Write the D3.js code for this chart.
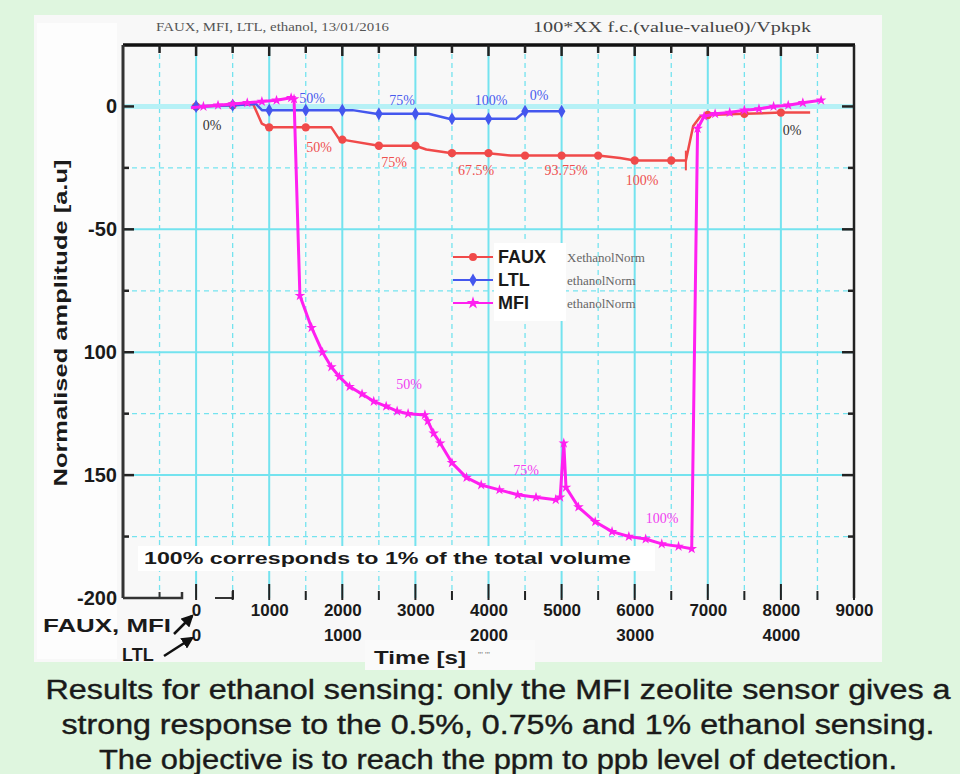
<!DOCTYPE html>
<html>
<head>
<meta charset="utf-8">
<script src="https://cdn.jsdelivr.net/npm/d3@7"></script>
<style>
  html, body { margin: 0; padding: 0; background: #dff6df; }
  svg { display: block; }
</style>
</head>
<body>
<svg id="chart" width="960" height="774"></svg>
<script>
// ---- data ----
// FAUX and MFI use the upper time axis (s), LTL uses the lower one
const fauxData = [[-50,0],[0,0],[500,0.5],[780,1],[900,-7],[1000,-8.5],[1500,-8.5],[1850,-8.5],[1950,-13],[2000,-13.5],
  [2500,-16],[3000,-16],[3150,-17.5],[3500,-19],[4000,-19],[4300,-20],[4500,-20],[5000,-20],[5500,-20],[5800,-21],
  [6000,-22],[6500,-22],[6700,-22],[6750,-15],[6800,-8],[6900,-4],[7000,-3.5],[7500,-3],[8000,-2.5],[8400,-2.5]];
const fauxEndBar = [6700, -18, -26];

const ltlData = [[-30,0],[0,0],[250,0.5],[410,1],[450,-1.5],[500,-1.5],[750,-1.5],[1000,-1.5],[1070,-1.5],[1230,-3],
  [1250,-3],[1500,-3],[1590,-3],[1730,-5],[1750,-5],[2000,-5],[2190,-5],[2250,-2],[2500,-2]];

const mfiData = [[-70,-0.5],[100,0],[300,0.5],[500,1],[700,1.5],[900,2],[1100,2.5],[1300,3.5],[1340,3],[1420,-77],
  [1580,-90],[1730,-100],[1850,-106],[1960,-110],[2100,-114],[2270,-117],[2430,-120],[2600,-122],[2750,-124],[2900,-125],
  [3130,-125.5],[3170,-128],[3250,-133],[3340,-137],[3500,-145],[3700,-151],[3900,-154],[4150,-156],[4400,-158],[4650,-159],
  [4920,-160],[4980,-159],[5030,-137],[5060,-155],[5230,-163],[5460,-169],[5690,-173],[5920,-175],[6150,-176],[6370,-178],
  [6600,-179],[6780,-180],[6860,-9],[6950,-4],[7100,-3],[7300,-2.5],[7500,-1.5],[7700,-1],[7900,0],[8100,0.5],[8300,1.5],[8550,2.5]];

// percentage annotations [time, value, text]
const fauxLabels = [[1683,-16.7,"50%"],[2709,-22.8,"75%"],[3830,-26,"67.5%"],[5062,-26,"93.75%"],[6101,-30,"100%"]];
const ltlLabels = [[1587,3.3,"50%"],[2818,2.4,"75%"],[4036,2.4,"100%"],[4692,4.5,"0%"]];
const mfiLabels = [[2914,-113,"50%"],[4514,-148,"75%"],[6375,-167.5,"100%"]];
const zeroLabels = [[219,-7.7,"0%"],[8153,-9.8,"0%"]];

const yTicks = [0, -50, -100, -150, -200];
const yTickText = ["0", "-50", "100", "150", "-200"];
const xTicks = [0,1000,2000,3000,4000,5000,6000,7000,8000,9000];
const xLtlTicks = [0,1000,2000,3000,4000];

const legendItems = [
  { name: "FAUX", sub: "XethanolNorm", color: "#f04a4a", sym: d3.symbolCircle },
  { name: "LTL",  sub: "ethanolNorm",  color: "#4457ee", sym: d3.symbolDiamond },
  { name: "MFI",  sub: "ethanolNorm",  color: "#ff1ff0", sym: d3.symbolStar }
];

const captionLines = [
  "Results for ethanol sensing: only the MFI zeolite sensor gives a",
  "strong response to the 0.5%, 0.75% and 1% ethanol sensing.",
  "The objective is to reach the ppm to ppb level of detection."
];

// ---- layout ----
const svg = d3.select("#chart");
const L = 123, R = 854, T = 45, B = 598;
const sans = "'Liberation Sans', Arial, sans-serif";
const serif = "'Liberation Serif', 'Times New Roman', serif";
const gridColor = "#74e3ef";

const x = d3.scaleLinear().domain([-1000, 9000]).range([L, R]);
const xLtl = d3.scaleLinear().domain([-500, 4500]).range([L, R]);
const y = d3.scaleLinear().domain([-200, 25]).range([B, T]);

// panel
svg.append("rect").attr("x", 34).attr("y", 15).attr("width", 848).attr("height", 647).attr("fill", "#f8f8f8");
svg.append("rect").attr("x", 37).attr("y", 23).attr("width", 80).attr("height", 636).attr("fill", "#fdfdfd");
svg.append("rect").attr("x", 365).attr("y", 640).attr("width", 170).attr("height", 30).attr("fill", "#fafafa");

// header
svg.append("text").attr("x", 156).attr("y", 31).attr("font-family", serif).attr("font-size", 12)
  .attr("fill", "#555").attr("textLength", 233).attr("lengthAdjust", "spacingAndGlyphs")
  .text("FAUX, MFI, LTL, ethanol, 13/01/2016");
svg.append("text").attr("x", 533).attr("y", 32).attr("font-family", serif).attr("font-size", 14)
  .attr("fill", "#444").attr("textLength", 278).attr("lengthAdjust", "spacingAndGlyphs")
  .text("100*XX f.c.(value-value0)/Vpkpk");

// grid
const grid = svg.append("g");
grid.selectAll("line.vmaj").data(d3.range(0, 9000, 1000)).join("line")
  .attr("x1", d => x(d)).attr("x2", d => x(d)).attr("y1", T).attr("y2", B)
  .attr("stroke", gridColor).attr("stroke-width", 2);
grid.selectAll("line.vmin").data(d3.range(-500, 9000, 1000)).join("line")
  .attr("x1", d => x(d)).attr("x2", d => x(d)).attr("y1", T).attr("y2", B)
  .attr("stroke", gridColor).attr("stroke-width", 1.3).attr("stroke-dasharray", "5,4");
grid.selectAll("line.hmaj").data([-50, -100, -150]).join("line")
  .attr("x1", L).attr("x2", R).attr("y1", d => y(d)).attr("y2", d => y(d))
  .attr("stroke", gridColor).attr("stroke-width", 2);
grid.append("line").attr("x1", L).attr("x2", R).attr("y1", y(0)).attr("y2", y(0))
  .attr("stroke", "#b6f1f6").attr("stroke-width", 5);
grid.selectAll("line.hmin").data([-25, -75, -125, -175]).join("line")
  .attr("x1", L).attr("x2", R).attr("y1", d => y(d)).attr("y2", d => y(d))
  .attr("stroke", gridColor).attr("stroke-width", 1.3).attr("stroke-dasharray", "5,4");

// frame and ticks
svg.append("line").attr("x1", L).attr("x2", R + 1).attr("y1", T).attr("y2", T).attr("stroke", "#111").attr("stroke-width", 3.5);
svg.append("line").attr("x1", R).attr("x2", R).attr("y1", T).attr("y2", B).attr("stroke", "#222").attr("stroke-width", 2.5);
svg.append("path").attr("d", `M${L},${B}H182V${B - 6}`).attr("fill", "none").attr("stroke", "#333").attr("stroke-width", 2.5);
svg.append("path").attr("d", `M${x(-500)},${B}V${B - 6}`).attr("stroke", "#333").attr("stroke-width", 2);
svg.append("path").attr("d", `M215,${B}H233V${B - 8}`).attr("fill", "none").attr("stroke", "#333").attr("stroke-width", 2);

const tickG = svg.append("g").attr("stroke", "#222");
tickG.selectAll("line.top").data(d3.range(-500, 9000, 500)).join("line")
  .attr("x1", d => x(d)).attr("x2", d => x(d)).attr("y1", T)
  .attr("y2", d => T + (d % 1000 === 0 ? 11 : 8)).attr("stroke-width", 2.5);
tickG.selectAll("line.bot").data(d3.range(0, 9500, 500)).join("line")
  .attr("x1", d => x(d)).attr("x2", d => x(d))
  .attr("y1", d => B - (d % 1000 === 0 ? 14 : 7)).attr("y2", B + 2).attr("stroke-width", 2);
tickG.selectAll("line.right").data(d3.range(0, -200, -25)).join("line")
  .attr("x1", R).attr("x2", d => R - (d % 50 === 0 ? 12 : 6))
  .attr("y1", d => y(d)).attr("y2", d => y(d)).attr("stroke-width", 2.5);
tickG.selectAll("line.left").data(d3.range(0, -200, -25)).join("line")
  .attr("x1", L).attr("x2", d => L + (d % 50 === 0 ? 11 : 6))
  .attr("y1", d => y(d)).attr("y2", d => y(d)).attr("stroke-width", 2.5);

// y axis
const yAxis = svg.append("g").attr("transform", `translate(${L},0)`)
  .call(d3.axisLeft(y).tickValues(yTicks).tickSize(0).tickPadding(6)
    .tickFormat((d, i) => yTickText[i]));
yAxis.select(".domain").attr("stroke", "#333").attr("stroke-width", 3).attr("d", `M0,${T}V${B}`);
yAxis.selectAll("text").attr("font-family", sans).attr("font-weight", "bold").attr("font-size", 20).attr("fill", "#1a1a1a");

svg.append("text").attr("transform", "translate(67,323) rotate(-90)").attr("text-anchor", "middle")
  .attr("font-family", sans).attr("font-weight", "bold").attr("font-size", 19).attr("fill", "#1a1a1a")
  .attr("textLength", 327).attr("lengthAdjust", "spacingAndGlyphs")
  .text("Normalised amplitude [a.u]");

// x axes (two time scales)
const xAxis1 = svg.append("g").attr("transform", `translate(0,${B})`)
  .call(d3.axisBottom(x).tickValues(xTicks).tickSize(0).tickPadding(6).tickFormat(d3.format("d")));
const xAxis2 = svg.append("g").attr("transform", `translate(0,${B + 25})`)
  .call(d3.axisBottom(xLtl).tickValues(xLtlTicks).tickSize(0).tickPadding(6).tickFormat(d3.format("d")));
[xAxis1, xAxis2].forEach(a => {
  a.select(".domain").remove();
  a.selectAll("text").attr("font-family", sans).attr("font-weight", "bold").attr("font-size", 17).attr("fill", "#1a1a1a");
});

svg.append("text").attr("x", 420).attr("y", 664).attr("text-anchor", "middle")
  .attr("font-family", sans).attr("font-weight", "bold").attr("font-size", 19).attr("fill", "#1a1a1a")
  .attr("textLength", 92).attr("lengthAdjust", "spacingAndGlyphs")
  .text("Time [s]");
svg.append("text").attr("x", 478).attr("y", 658).attr("font-family", serif).attr("font-size", 9).attr("fill", "#777")
  .text("''' '''");

svg.append("text").attr("x", 43).attr("y", 632).attr("font-family", sans).attr("font-weight", "bold")
  .attr("font-size", 18).attr("fill", "#1a1a1a").attr("textLength", 128).attr("lengthAdjust", "spacingAndGlyphs")
  .text("FAUX, MFI");
svg.append("text").attr("x", 122).attr("y", 661).attr("font-family", sans).attr("font-weight", "bold")
  .attr("font-size", 18).attr("fill", "#1a1a1a").text("LTL");
svg.append("defs").append("marker").attr("id", "arr").attr("viewBox", "0 0 10 10").attr("refX", 8).attr("refY", 5)
  .attr("markerWidth", 5).attr("markerHeight", 5).attr("orient", "auto")
  .append("path").attr("d", "M0,0L10,5L0,10z").attr("fill", "#111");
svg.append("line").attr("x1", 174).attr("y1", 634).attr("x2", 192).attr("y2", 616)
  .attr("stroke", "#111").attr("stroke-width", 2.5).attr("marker-end", "url(#arr)");
svg.append("line").attr("x1", 164).attr("y1", 656).attr("x2", 192).attr("y2", 638)
  .attr("stroke", "#111").attr("stroke-width", 2.5).attr("marker-end", "url(#arr)");

// series
function drawSeries(data, xs, color, width, sym, size, markEvery) {
  const g = svg.append("g");
  g.append("path").datum(data)
    .attr("d", d3.line().x(d => xs(d[0])).y(d => y(d[1])))
    .attr("fill", "none").attr("stroke", color).attr("stroke-width", width).attr("stroke-linejoin", "round");
  const pts = markEvery ? data.filter(d => d[0] % markEvery === 0) : data.filter(d => d[0] >= 0);
  g.selectAll("path.m").data(pts).join("path")
    .attr("transform", d => `translate(${xs(d[0])},${y(d[1])})`)
    .attr("d", d3.symbol().type(sym).size(size)).attr("fill", color);
  return g;
}
drawSeries(fauxData, x, "#f04a4a", 2.5, d3.symbolCircle, 55, 500);
svg.append("line").attr("x1", x(fauxEndBar[0])).attr("x2", x(fauxEndBar[0]))
  .attr("y1", y(fauxEndBar[1])).attr("y2", y(fauxEndBar[2])).attr("stroke", "#f04a4a").attr("stroke-width", 2);
drawSeries(ltlData, xLtl, "#4457ee", 2.5, d3.symbolDiamond, 50, 250);
drawSeries(mfiData, x, "#ff1ff0", 3, d3.symbolStar, 35, 0);

// annotations
function drawLabels(items, color) {
  svg.append("g").selectAll("text").data(items).join("text")
    .attr("x", d => x(d[0])).attr("y", d => y(d[1])).attr("dy", "0.35em").attr("text-anchor", "middle")
    .attr("font-family", serif).attr("font-size", 14).attr("fill", color).text(d => d[2]);
}
drawLabels(fauxLabels, "#ee5050");
drawLabels(ltlLabels, "#4a5cee");
drawLabels(mfiLabels, "#f040f0");
drawLabels(zeroLabels, "#333");

// legend
svg.append("rect").attr("x", 494).attr("y", 243).attr("width", 72).attr("height", 78).attr("fill", "#fff");
const leg = svg.append("g").selectAll("g").data(legendItems).join("g")
  .attr("transform", (d, i) => `translate(453,${257 + i * 23})`);
leg.append("line").attr("x1", 0).attr("x2", 40).attr("stroke", d => d.color).attr("stroke-width", 2);
leg.append("path").attr("transform", "translate(20,0)").attr("d", d => d3.symbol().type(d.sym).size(50)()).attr("fill", d => d.color);
leg.append("text").attr("x", 45).attr("dy", "0.36em").attr("font-family", sans).attr("font-weight", "bold")
  .attr("font-size", 18).attr("fill", "#1a1a1a").text(d => d.name);
leg.append("text").attr("x", 114).attr("dy", "0.36em").attr("font-family", serif)
  .attr("font-size", 13).attr("fill", "#666").text(d => d.sub);

// note box
svg.append("rect").attr("x", 138).attr("y", 546).attr("width", 517).attr("height", 25).attr("fill", "#fff");
svg.append("text").attr("x", 144).attr("y", 564).attr("font-family", sans).attr("font-weight", "bold")
  .attr("font-size", 17).attr("fill", "#1a1a1a").attr("textLength", 487).attr("lengthAdjust", "spacingAndGlyphs")
  .text("100% corresponds to 1% of the total volume");

// caption
const capW = [905, 873, 798];
svg.append("g").selectAll("text").data(captionLines).join("text")
  .attr("x", 498).attr("y", (d, i) => 699 + i * 35).attr("text-anchor", "middle")
  .attr("font-family", sans).attr("font-size", 27).attr("fill", "#1a1a1a")
  .attr("stroke", "#1a1a1a").attr("stroke-width", 0.4)
  .attr("textLength", (d, i) => capW[i]).attr("lengthAdjust", "spacingAndGlyphs")
  .text(d => d);
</script>
</body>
</html>
